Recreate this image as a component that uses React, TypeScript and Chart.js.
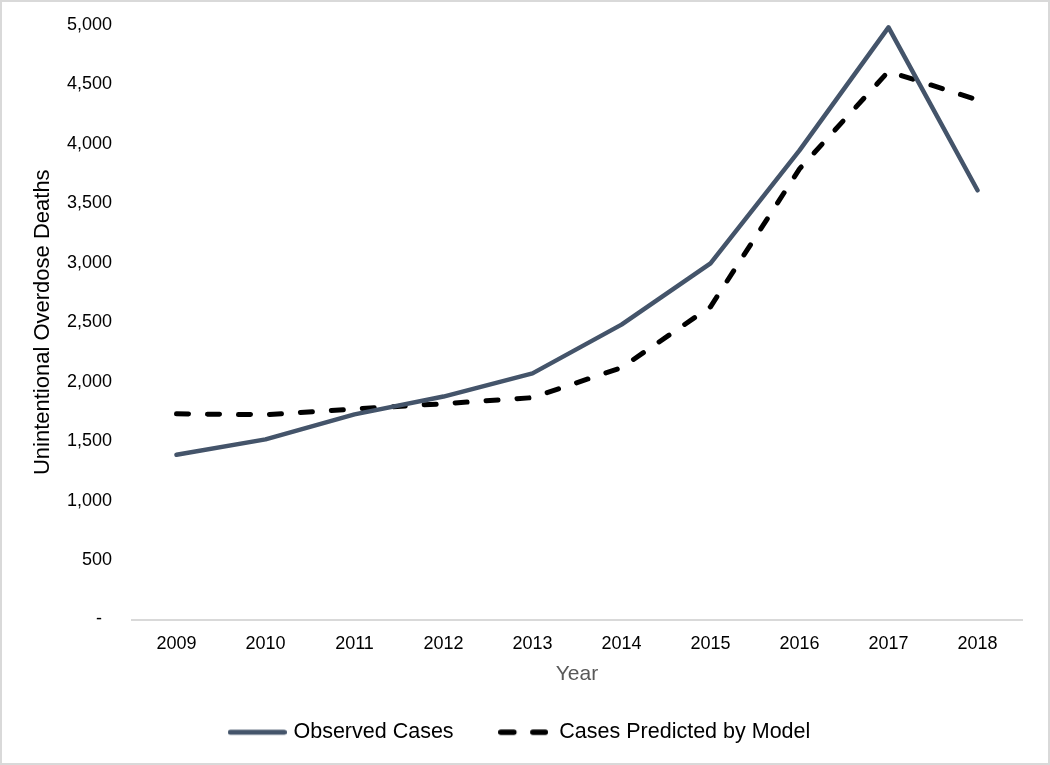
import React, { useEffect, useRef } from "react";
import { Chart, registerables } from "chart.js";

Chart.register(...registerables);

const years = ["2009", "2010", "2011", "2012", "2013", "2014", "2015", "2016", "2017", "2018"];
const observedCases = [1385, 1515, 1725, 1875, 2070, 2480, 2995, 3945, 4980, 3610];
const predictedCases = [1730, 1722, 1770, 1815, 1866, 2118, 2630, 3790, 4610, 4370];
const yTickValues = [0, 500, 1000, 1500, 2000, 2500, 3000, 3500, 4000, 4500, 5000];

const FONT = "'Liberation Sans', Arial, sans-serif";
const OBS_COLOR = "#44546a";

function makeSample(width: number, color: string, lw: number, dash: number[]) {
  const c = document.createElement("canvas");
  c.width = width;
  c.height = 10;
  const ctx = c.getContext("2d")!;
  ctx.strokeStyle = color;
  ctx.lineWidth = lw;
  ctx.lineCap = "round";
  ctx.setLineDash(dash);
  ctx.beginPath();
  ctx.moveTo(lw / 2, 5);
  ctx.lineTo(width - lw / 2, 5);
  ctx.stroke();
  return c;
}

export default function App() {
  const canvasRef = useRef<HTMLCanvasElement | null>(null);

  useEffect(() => {
    document.body.style.margin = "0";
    const canvas = canvasRef.current;
    if (!canvas) return;
    const samples = [
      makeSample(59, OBS_COLOR, 5, []),
      makeSample(50, "#000000", 5.5, [13, 19]),
    ];
    const chart = new Chart(canvas, {
      type: "line",
      data: {
        labels: years,
        datasets: [
          {
            label: "Observed Cases",
            data: observedCases,
            borderColor: OBS_COLOR,
            backgroundColor: OBS_COLOR,
            borderWidth: 4.5,
            pointRadius: 0,
            tension: 0,
            borderCapStyle: "round",
            borderJoinStyle: "round",
          },
          {
            label: "Cases Predicted by Model",
            data: predictedCases,
            borderColor: "#000000",
            backgroundColor: "#000000",
            borderWidth: 5,
            borderDash: [12, 19],
            borderCapStyle: "round",
            borderJoinStyle: "round",
            pointRadius: 0,
            tension: 0,
          },
        ],
      },
      options: {
        animation: false,
        responsive: false,
        maintainAspectRatio: false,
        layout: { padding: { top: 23, right: 8, left: 0, bottom: 10 } },
        plugins: {
          tooltip: { enabled: false },
          legend: {
            position: "bottom",
            labels: {
              usePointStyle: true,
              pointStyleWidth: 51,
              boxHeight: 10,
              padding: 44,
              color: "#000000",
              font: { family: FONT, size: 21.5 },
              generateLabels: (ch: any) => {
                const items = Chart.defaults.plugins.legend.labels.generateLabels(ch);
                return items.map((it: any, i: number) => ({
                  ...it,
                  pointStyle: samples[i],
                  lineDash: [],
                }));
              },
            },
          },
        },
        scales: {
          x: {
            type: "category",
            offset: true,
            grid: { display: false, drawTicks: false },
            border: { display: true, color: "#d9d9d9", width: 2 },
            ticks: {
              color: "#000000",
              padding: 14,
              font: { family: FONT, size: 18 },
              maxRotation: 0,
            },
            title: {
              display: true,
              text: "Year",
              color: "#595959",
              font: { family: FONT, size: 21 },
              padding: { top: 0, bottom: -9 },
            },
            afterFit: (scale: any) => {
              scale.height = 58;
            },
          },
          y: {
            min: 0,
            max: 5000,
            grid: { display: false, drawTicks: false },
            border: { display: false },
            afterBuildTicks: (scale: any) => {
              scale.ticks = yTickValues.map((v) => ({ value: v }));
            },
            ticks: {
              color: "#000000",
              padding: 20,
              font: { family: FONT, size: 18 },
              callback: (value: any) =>
                Number(value) === 0 ? "-  " : Number(value).toLocaleString("en-US"),
            },
            title: {
              display: true,
              text: "Unintentional Overdose Deaths",
              color: "#000000",
              font: { family: FONT, size: 22 },
              padding: { top: 28, bottom: 0 },
            },
            afterFit: (scale: any) => {
              scale.width = 130;
              scale.paddingTop = 10;
              scale.paddingBottom = 10;
            },
          },
          spacer: {
            type: "linear",
            position: "right",
            display: true,
            grid: { display: false, drawTicks: false },
            border: { display: false },
            ticks: { display: false },
            afterFit: (scale: any) => {
              scale.width = 18;
              scale.paddingTop = 0;
              scale.paddingBottom = 0;
            },
          },
        },
      },
    });
    return () => chart.destroy();
  }, []);

  return (
    <div
      style={{
        width: 1050,
        height: 765,
        boxSizing: "border-box",
        border: "2px solid #d9d9d9",
        background: "#ffffff",
      }}
    >
      <canvas ref={canvasRef} width={1046} height={761} style={{ display: "block" }} />
    </div>
  );
}
